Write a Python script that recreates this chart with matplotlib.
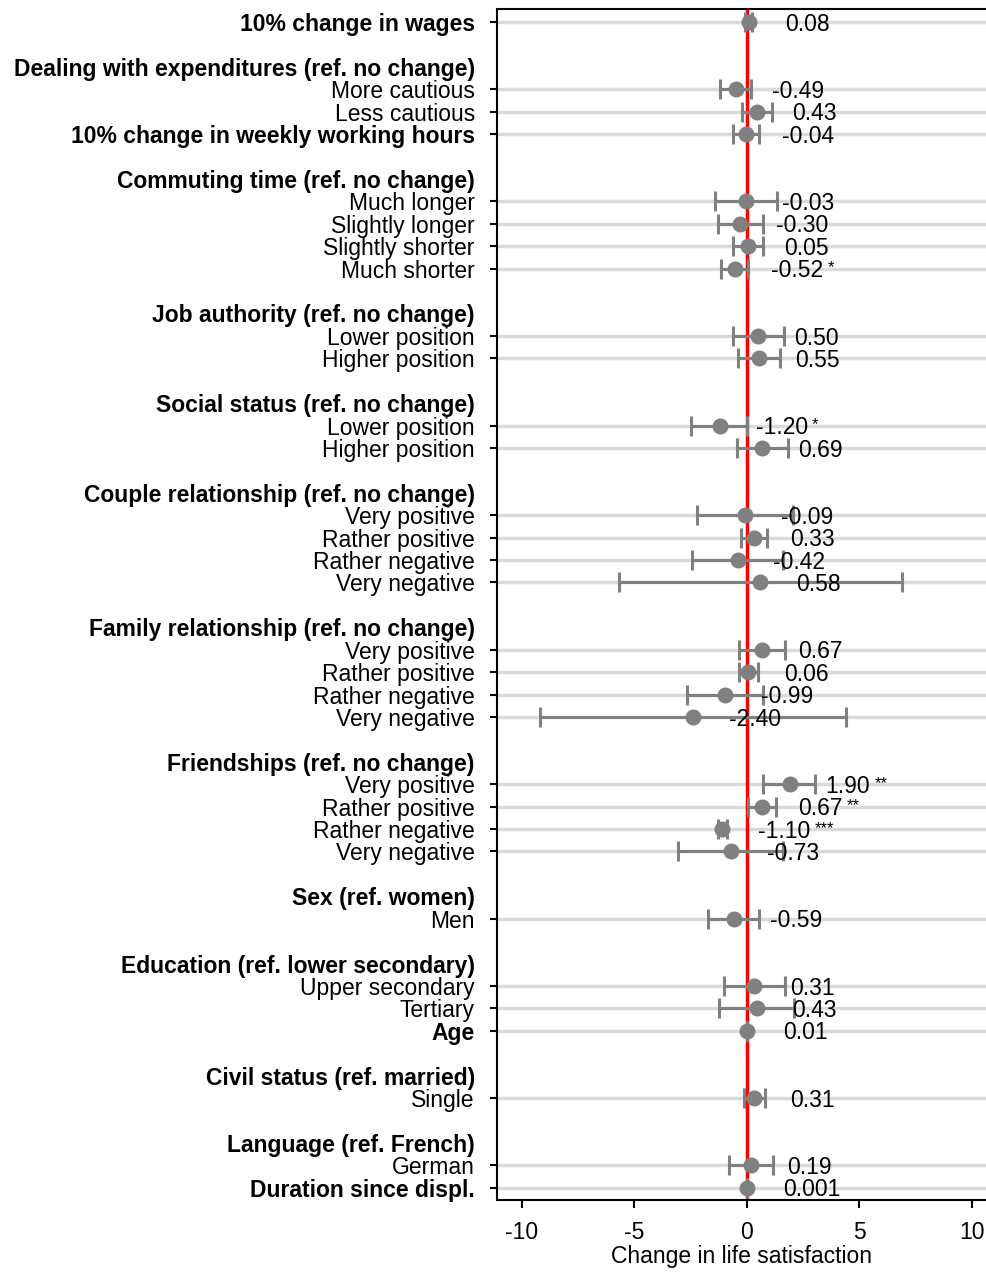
import matplotlib
matplotlib.use("Agg")
import matplotlib.pyplot as plt

plt.rcParams['font.family'] = ['Liberation Sans', 'DejaVu Sans']
plt.rcParams['font.size'] = 16.5
plt.rcParams['axes.unicode_minus'] = False

# row labels, kind: 'main' = bold variable with estimate, 'head' = bold group header, 'sub' = category
labels = [
    '10% change in wages',
    'Dealing with expenditures (ref. no change)', 'More cautious', 'Less cautious',
    '10% change in weekly working hours',
    'Commuting time (ref. no change)', 'Much longer', 'Slightly longer', 'Slightly shorter', 'Much shorter',
    'Job authority (ref. no change)', 'Lower position', 'Higher position',
    'Social status (ref. no change)', 'Lower position', 'Higher position',
    'Couple relationship (ref. no change)', 'Very positive', 'Rather positive', 'Rather negative', 'Very negative',
    'Family relationship (ref. no change)', 'Very positive', 'Rather positive', 'Rather negative', 'Very negative',
    'Friendships (ref. no change)', 'Very positive', 'Rather positive', 'Rather negative', 'Very negative',
    'Sex (ref. women)', 'Men',
    'Education (ref. lower secondary)', 'Upper secondary', 'Tertiary',
    'Age',
    'Civil status (ref. married)', 'Single',
    'Language (ref. French)', 'German',
    'Duration since displ.',
]
kinds = [
    'main',
    'head', 'sub', 'sub',
    'main',
    'head', 'sub', 'sub', 'sub', 'sub',
    'head', 'sub', 'sub',
    'head', 'sub', 'sub',
    'head', 'sub', 'sub', 'sub', 'sub',
    'head', 'sub', 'sub', 'sub', 'sub',
    'head', 'sub', 'sub', 'sub', 'sub',
    'head', 'sub',
    'head', 'sub', 'sub',
    'main',
    'head', 'sub',
    'head', 'sub',
    'main',
]

# estimates (only for rows that are not headers, in order)
coefs = [0.08, -0.49, 0.43, -0.04, -0.03, -0.30, 0.05, -0.52, 0.50, 0.55, -1.20, 0.69,
         -0.09, 0.33, -0.42, 0.58, 0.67, 0.06, -0.99, -2.40, 1.90, 0.67, -1.10, -0.73,
         -0.59, 0.31, 0.43, 0.01, 0.31, 0.19, 0.001]
ci_lo = [-0.07, -1.20, -0.22, -0.64, -1.42, -1.30, -0.61, -1.16, -0.64, -0.39, -2.49, -0.46,
         -2.24, -0.28, -2.46, -5.69, -0.34, -0.36, -2.68, -9.20, 0.72, 0.03, -1.30, -3.05,
         -1.72, -1.00, -1.23, 0.00, -0.12, -0.79, 0.00]
ci_hi = [0.23, 0.20, 1.10, 0.55, 1.35, 0.72, 0.72, 0.06, 1.64, 1.47, 0.01, 1.84,
         2.06, 0.90, 1.62, 6.87, 1.69, 0.47, 0.72, 4.40, 3.02, 1.29, -0.90, 1.60,
         0.55, 1.69, 2.09, 0.02, 0.80, 1.17, 0.002]
coef_text = ['0.08', '-0.49', '0.43', '-0.04', '-0.03', '-0.30', '0.05', '-0.52', '0.50', '0.55',
             '-1.20', '0.69', '-0.09', '0.33', '-0.42', '0.58', '0.67', '0.06', '-0.99', '-2.40',
             '1.90', '0.67', '-1.10', '-0.73', '-0.59', '0.31', '0.43', '0.01', '0.31', '0.19', '0.001']
stars = ['', '', '', '', '', '', '', '*', '', '', '*', '', '', '', '', '', '', '', '', '',
         '**', '**', '***', '', '', '', '', '', '', '', '']

# row positions: an empty row before every group header
rows = []
r = -1
for k in kinds:
    r += 2 if (k == 'head') else 1
    rows.append(r)
est_rows = [rows[i] for i, k in enumerate(kinds) if k != 'head']

grey = '#808080'

fig = plt.figure(figsize=(9.87, 12.74), dpi=100)
ax = fig.add_axes([497 / 987, 1 - 1200 / 1274, 490 / 987, 1191 / 1274])

for y in est_rows:
    ax.axhline(y, color='#dadada', lw=2.5, zorder=1)
ax.axvline(0, color='red', lw=2.5, zorder=2)

xerr = [[c - lo for c, lo in zip(coefs, ci_lo)], [hi - c for c, hi in zip(coefs, ci_hi)]]
ax.errorbar(coefs, est_rows, xerr=xerr, fmt='none', ecolor=grey, elinewidth=2.2,
            capsize=7, capthick=2.2, zorder=3)
ax.plot(coefs, est_rows, 'o', color=grey, ms=10.5, zorder=4)

texts = []
for c, y, s in zip(coefs, est_rows, coef_text):
    t = ax.text(c + 1.6, y + 0.1, s, va='center', ha='left', fontsize=16.5, zorder=5)
    texts.append(t)

ax.set_xlim(-11.11, 10.67)
ax.set_ylim(52.55, -0.58)
ax.set_xticks([-10, -5, 0, 5, 10])
ax.set_xlabel('Change in life satisfaction', fontsize=16.5, labelpad=1)

ax.set_yticks(rows)
ax.set_yticklabels(labels)
for lab, k in zip(ax.get_yticklabels(), kinds):
    if k in ('main', 'head'):
        lab.set_fontweight('bold')
for tick, k in zip(ax.yaxis.get_major_ticks(), kinds):
    if k == 'head':
        tick.tick1line.set_visible(False)

ax.tick_params(axis='y', length=5, width=1.5, pad=11, labelsize=16.5)
ax.tick_params(axis='x', length=6, width=1.5, pad=9, labelsize=16.5)
ax.spines['right'].set_visible(False)
for sp in ('left', 'bottom', 'top'):
    ax.spines[sp].set_linewidth(1.5)

# significance stars as small raised text after the number
fig.canvas.draw()
renderer = fig.canvas.get_renderer()
for t, s in zip(texts, stars):
    if s:
        bb = t.get_window_extent(renderer)
        ax.annotate(s, xy=(bb.x1 + 4, bb.y1 - 1), xycoords='figure pixels',
                    va='top', ha='left', fontsize=12, zorder=5)

fig.savefig('out.png', dpi=100)
